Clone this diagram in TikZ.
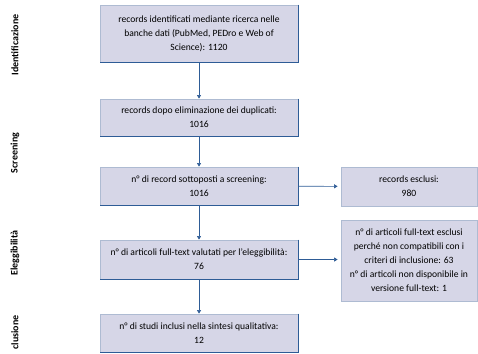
\documentclass[tikz,border=0pt]{standalone}
\usepackage{fontspec}
\setmainfont{Carlito}
\usepackage{xcolor}
\definecolor{BoxFill}{HTML}{D6D6E7}
\definecolor{BoxEdge}{HTML}{AEBBD2}
\definecolor{BoxDark}{HTML}{2E5C96}
\usepackage{tikz}
\usetikzlibrary{arrows.meta,positioning}

\begin{document}
\begin{tikzpicture}[x=1pt,y=-1pt,
        box/.style={draw=BoxEdge, fill=BoxFill, line width=0.8pt, align=center, font=\fontsize{9.6}{14}\selectfont, inner sep=1pt},
        mainbox/.style={box, minimum width=198pt},
        sidebox/.style={box, minimum width=136pt},
        phase/.style={rotate=90, font=\bfseries\fontsize{10}{12}\selectfont},
        link/.style={-{Triangle[length=3.5pt,width=4pt]}, BoxDark, line width=0.6pt}]
    \useasboundingbox (0,0) rectangle (478,353);

    \node[mainbox, minimum height=57pt] (ident) at (199,33.5) {records identificati mediante ricerca nelle\\banche dati (PubMed, PEDro e Web of\\Science): 1120};
    \node[mainbox, minimum height=37pt] (dupl) at (199,117.5) {records dopo eliminazione dei duplicati:\\1016};
    \node[mainbox, minimum height=38pt] (screen) at (199,186) {n° di record sottoposti a screening:\\1016};
    \node[mainbox, minimum height=39pt] (elig) at (199,259.5) {n° di articoli full-text valutati per l'eleggibilità:\\76};
    \node[mainbox, minimum height=38pt] (incl) at (199,333) {n° di studi inclusi nella sintesi qualitativa:\\12};

    \node[sidebox, minimum height=39pt] (excl) at (409,186.5) {records esclusi:\\980};
    \node[sidebox, minimum height=81pt] (exft) at (409,260.5) {n° di articoli full-text esclusi\\perché non compatibili con i\\criteri di inclusione: 63\\n° di articoli non disponibile in\\versione full-text: 1};

    % bordo scuro a destra e in basso
    \foreach \b in {ident,dupl,screen,elig,incl}
        \draw[BoxDark, line width=0.8pt] (\b.north east) -- (\b.south east) -- (\b.south west);

    \draw[link] (ident) -- (dupl);
    \draw[link] (dupl) -- (screen);
    \draw[link] (screen) -- (elig);
    \draw[link] (elig) -- (incl);
    \draw[link, shorten >=3pt] (screen) -- (excl);
    \draw[link, shorten >=3pt] (elig.east) -- (elig.east -| exft.west);

    \node[phase] (p1) at (15,45) {Identificazione};
    \node[phase] (p2) at (15,153) {Screening};
    \node[phase] (p3) at (15,253) {Eleggibilità};
    \node[phase, anchor=west] (p4) at (15,353) {clusione};
\end{tikzpicture}
\end{document}
